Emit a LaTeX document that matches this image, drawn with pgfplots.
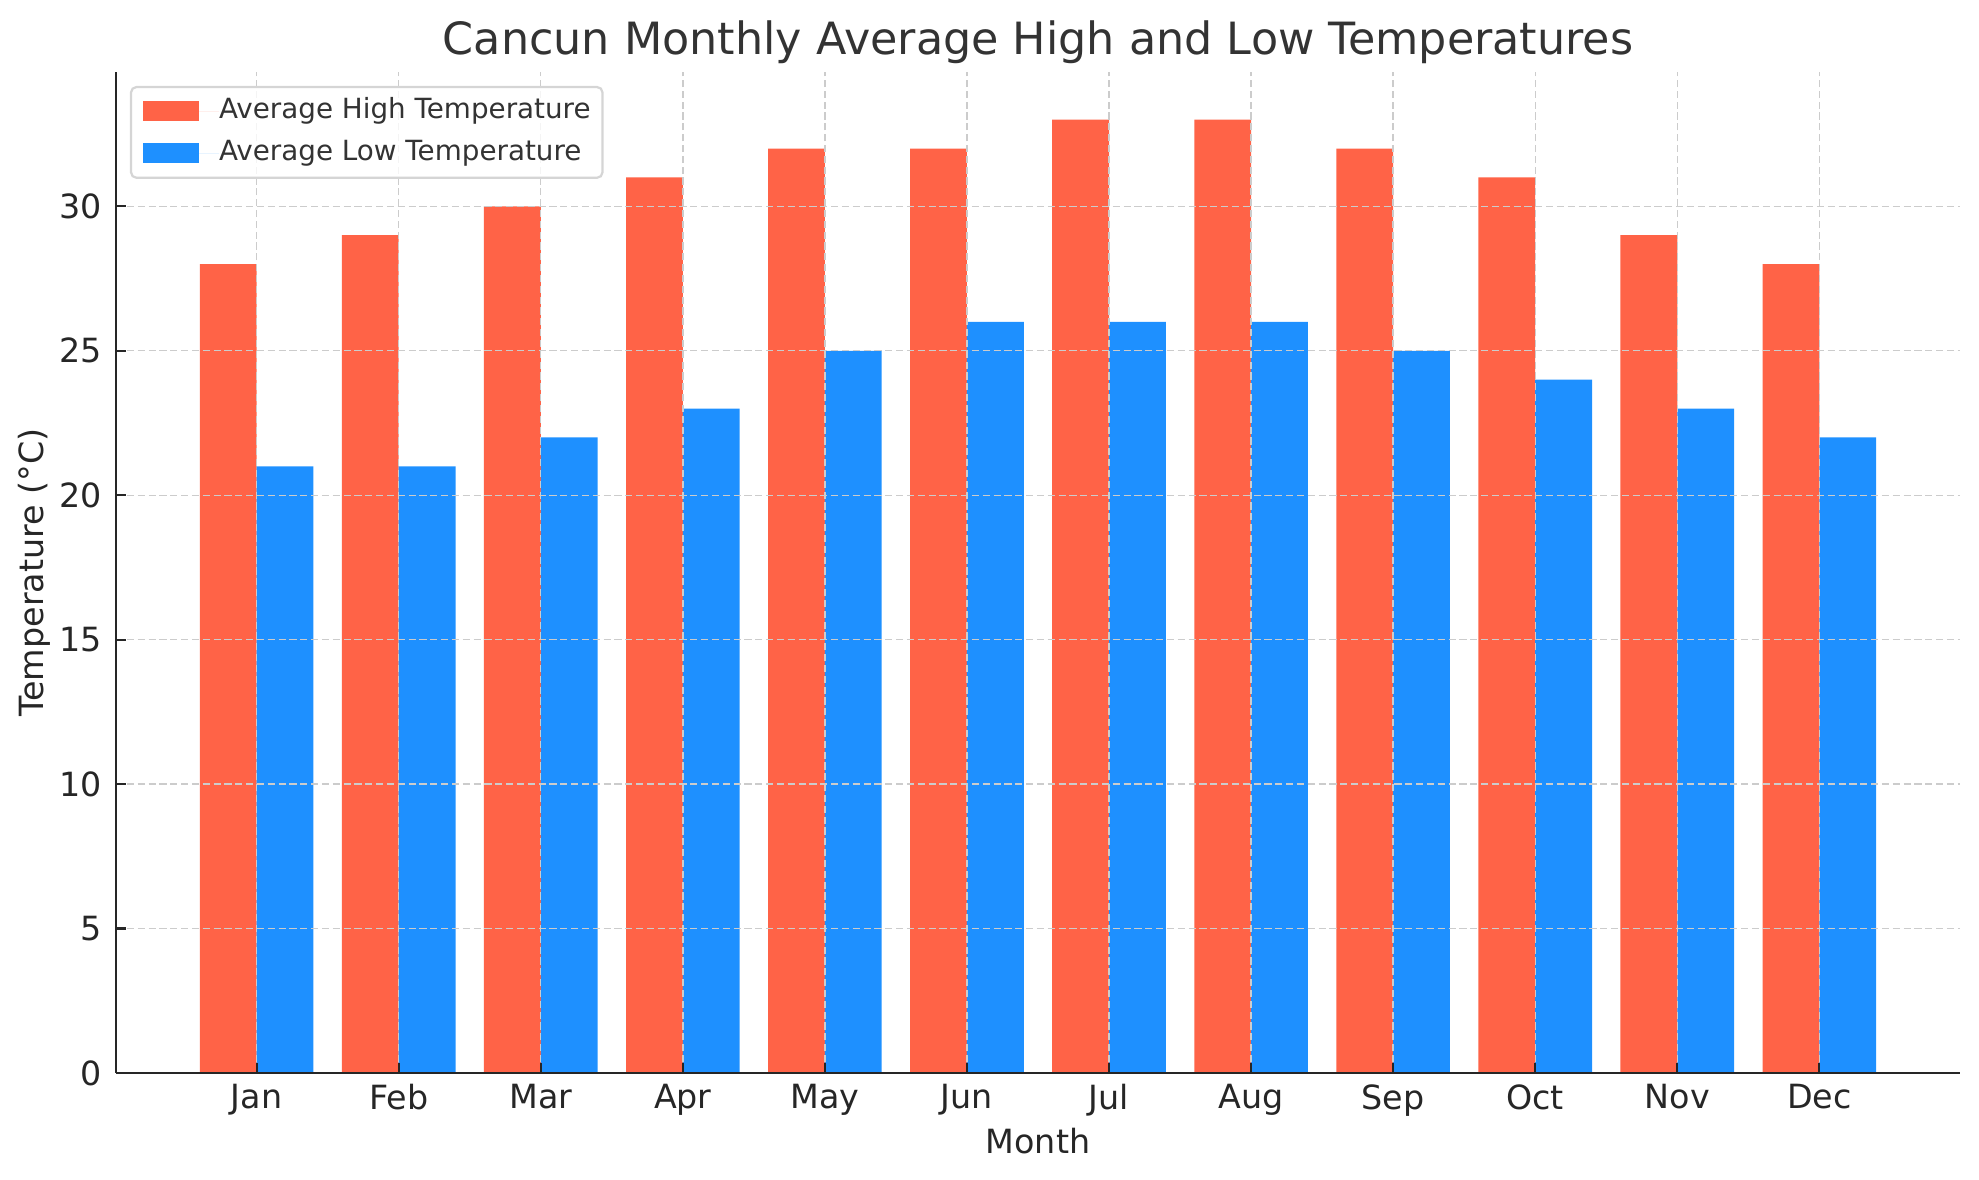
\documentclass[border=0pt]{standalone}
\usepackage{pgfplots}
\pgfplotsset{compat=1.18}
\usepackage{fontspec}
\setmainfont{DejaVu Sans}
\definecolor{hi}{HTML}{FF6347}
\definecolor{lo}{HTML}{1E90FF}
\definecolor{txt}{HTML}{333333}
\definecolor{tk}{HTML}{262626}
\definecolor{gr}{HTML}{CCCCCC}
\definecolor{lf}{HTML}{D5D5D5}
\pgfplotstableread{
x hi lo
0 28 21
1 29 21
2 30 22
3 31 23
4 32 25
5 32 26
6 33 26
7 33 26
8 32 25
9 31 24
10 29 23
11 28 22
}\data
\begin{document}
\begin{tikzpicture}
\useasboundingbox (-41.76pt,-38.52pt) rectangle (670.68pt,386.28pt);
\begin{axis}[
  at={(0,0)}, anchor=south west,
  scale only axis,
  width=663.84pt, height=360.36pt,
  xmin=-0.99, xmax=11.99,
  ymin=0, ymax=34.65,
  axis lines*=left,
  axis line style={color=tk, line width=1pt},
  axis on top,
  tick align=inside,
  major tick length=3.5pt,
  tick style={color=tk, line width=0.8pt},
  xtick={0,...,11},
  xticklabels={Jan,Feb,Mar,Apr,May,Jun,Jul,Aug,Sep,Oct,Nov,Dec},
  ytick={0,5,10,15,20,25,30},
  yticklabels={0,5,10,15,20,25,30},
  ticklabel style={font=\fontsize{12}{14}\selectfont, text=tk},
  xticklabel style={inner sep=0pt, anchor=north, yshift=-4pt},
  yticklabel style={inner sep=0pt, anchor=east, xshift=-5pt},
  grid=major,
  major grid style={color=gr, dash pattern=on 2.6pt off 1.3pt, line width=0.5pt},
  title={Cancun Monthly Average High and Low Temperatures},
  title style={at={(rel axis cs:0.5,1)}, anchor=center, yshift=4.6pt, font=\fontsize{16}{19}\selectfont, text=txt, inner sep=0pt},
  xlabel={Month},
  xlabel style={at={(rel axis cs:0.5,0)}, anchor=center, yshift=-24.5pt, font=\fontsize{12}{14}\selectfont, text=tk, inner sep=0pt},
  ylabel={Temperature (°C)},
  ylabel style={at={(rel axis cs:0,0.5)}, anchor=center, yshift=29.5pt, font=\fontsize{12}{14}\selectfont, text=tk, inner sep=0pt},
  legend cell align=left,
  legend image code/.code={\fill[#1,sharp corners,fill opacity=1] (0pt,-3.6pt) rectangle (20pt,3.6pt); \path (0pt,0pt) -- (27.4pt,0pt);},
  legend style={at={(rel axis cs:0,1)}, anchor=north west, xshift=5pt, yshift=-5pt,
    draw=lf, line width=0.8pt, rounded corners=2pt, fill=white, fill opacity=0.8, text opacity=1,
    font=\fontsize{10}{12}\selectfont, text=txt,
    inner xsep=4.3pt, inner ysep=4pt, row sep=5.5pt,
    nodes={inner sep=0pt, text height=7.3pt, text depth=2.3pt}},
]
\addplot[ybar, bar width=0.4, bar shift=-0.2, fill=hi, draw=none] table[x=x, y=hi] {\data};
\addlegendentry{Average High Temperature}
\addplot[ybar, bar width=0.4, bar shift=0.2, fill=lo, draw=none] table[x=x, y=lo] {\data};
\addlegendentry{Average Low Temperature}
\end{axis}
\end{tikzpicture}
\end{document}
